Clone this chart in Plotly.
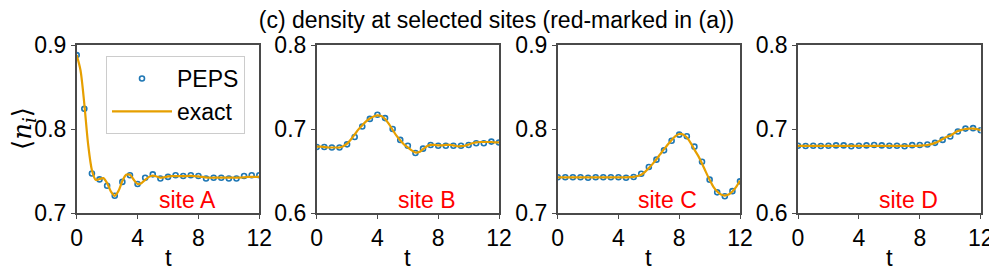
import plotly.graph_objects as go

# ---------------- data ----------------
t_peps = [i * 0.5 for i in range(25)]
t_exact = [i * 0.25 for i in range(49)]

peps_A = [0.888, 0.824, 0.747, 0.740, 0.7325, 0.7206, 0.737, 0.745, 0.7345, 0.742,
          0.746, 0.741, 0.743, 0.745, 0.744, 0.745, 0.744, 0.741, 0.742, 0.742,
          0.741, 0.741, 0.744, 0.745, 0.745]
exact_A = [0.888, 0.870, 0.830, 0.782, 0.751, 0.7395, 0.7405, 0.7415, 0.7355, 0.7255,
           0.7205, 0.7265, 0.738, 0.7455, 0.7455, 0.7395, 0.7345, 0.7355, 0.7395, 0.743,
           0.7445, 0.7435, 0.742, 0.7425, 0.7435, 0.744, 0.744, 0.744, 0.744, 0.744,
           0.7443, 0.744, 0.7435, 0.743, 0.7423, 0.742, 0.742, 0.742, 0.742, 0.742,
           0.742, 0.742, 0.742, 0.7422, 0.7425, 0.743, 0.743, 0.743, 0.743]

peps_B = [0.6786, 0.6786, 0.678, 0.678, 0.6817, 0.6905, 0.703, 0.712, 0.717, 0.713,
          0.700, 0.687, 0.680, 0.6714, 0.6766, 0.681, 0.680, 0.680, 0.680, 0.680,
          0.681, 0.683, 0.683, 0.685, 0.684]
exact_B = [0.679, 0.679, 0.6785, 0.678, 0.678, 0.678, 0.678, 0.6795, 0.6825, 0.6875,
           0.6935, 0.6995, 0.7045, 0.709, 0.7125, 0.715, 0.7163, 0.7155, 0.712, 0.706,
           0.699, 0.692, 0.6865, 0.6815, 0.678, 0.6745, 0.672, 0.6725, 0.676, 0.6795,
           0.681, 0.681, 0.6805, 0.6805, 0.681, 0.681, 0.6805, 0.6795, 0.6795, 0.680,
           0.6815, 0.683, 0.684, 0.6845, 0.6845, 0.6845, 0.6845, 0.684, 0.684]

peps_C = [0.7425, 0.7425, 0.7425, 0.7425, 0.742, 0.7425, 0.7425, 0.7425, 0.7425, 0.742,
          0.7428, 0.7468, 0.7548, 0.7635, 0.7746, 0.786, 0.7933, 0.7913, 0.779, 0.761,
          0.7397, 0.7246, 0.720, 0.726, 0.7377]
exact_C = [0.7425, 0.7425, 0.7425, 0.7425, 0.7425, 0.7425, 0.7425, 0.7425, 0.7423, 0.7423,
           0.7423, 0.7424, 0.7425, 0.7425, 0.7425, 0.7425, 0.7425, 0.7425, 0.7425, 0.7426,
           0.743, 0.744, 0.7455, 0.749, 0.7535, 0.7585, 0.764, 0.770, 0.776, 0.7815,
           0.787, 0.7915, 0.794, 0.7935, 0.790, 0.7835, 0.7755, 0.768, 0.759, 0.749,
           0.7395, 0.731, 0.7255, 0.722, 0.7208, 0.722, 0.7255, 0.731, 0.7385]

peps_D = [0.680, 0.6798, 0.680, 0.6797, 0.680, 0.6805, 0.6805, 0.6795, 0.680, 0.6805,
          0.681, 0.6805, 0.680, 0.680, 0.6795, 0.6808, 0.681, 0.6815, 0.6835, 0.687,
          0.691, 0.697, 0.7005, 0.701, 0.6985]
exact_D = [0.680] * 31 + [0.680, 0.6802, 0.6805, 0.681, 0.682, 0.6835, 0.6855, 0.688, 0.6905,
                          0.692, 0.6950, 0.6975, 0.699, 0.700, 0.7005, 0.7005, 0.6998, 0.6985]

site_labels = ["site A", "site B", "site C", "site D"]
y_ranges = [[0.7, 0.9], [0.6, 0.8], [0.7, 0.9], [0.6, 0.8]]
y_ticks = [[0.7, 0.8, 0.9], [0.6, 0.7, 0.8], [0.7, 0.8, 0.9], [0.6, 0.7, 0.8]]
x_ticks = [0, 4, 8, 12]
peps_all = [peps_A, peps_B, peps_C, peps_D]
exact_all = [exact_A, exact_B, exact_C, exact_D]

# ---------------- figure ----------------
# the page adds an 8px body margin, so the figure is 8px smaller and
# all reference pixel positions are shifted by -8
OFF = 8
W, H = 997 - OFF, 272 - OFF
FONT = "Liberation Sans, Arial, Helvetica, sans-serif"
BLUE = "#1f77b4"
ORANGE = "#E69F00"
AXC = "#4a4a4a"

x_px = [(76.7, 259.3), (316.7, 499.0), (557.7, 740.0), (798.0, 980.7)]
px = lambda v: (v - OFF) / W
py = lambda v: 1 - (v - OFF) / H
y_dom = [py(213), py(45)]

fig = go.Figure()
layout = dict(
    width=W, height=H,
    margin=dict(l=0, r=0, t=0, b=0, autoexpand=False),
    paper_bgcolor="white", plot_bgcolor="white",
    font=dict(family=FONT, size=23, color="black"),
    showlegend=True,
)

annotations = []
for k in range(4):
    xa = "x" if k == 0 else f"x{k+1}"
    ya = "y" if k == 0 else f"y{k+1}"
    fig.add_trace(go.Scatter(
        x=t_peps, y=peps_all[k], mode="markers", name="PEPS",
        marker=dict(symbol="circle-open", size=5, color=BLUE, line=dict(width=1.6)),
        xaxis=xa, yaxis=ya, showlegend=(k == 0), legendgroup="peps"))
    fig.add_trace(go.Scatter(
        x=t_exact, y=exact_all[k], mode="lines", name="exact",
        line=dict(color=ORANGE, width=2.2, shape="spline", smoothing=0.8),
        xaxis=xa, yaxis=ya, showlegend=(k == 0), legendgroup="exact"))

    axkey = "" if k == 0 else str(k + 1)
    layout["xaxis" + axkey] = dict(
        domain=[px(x_px[k][0]), px(x_px[k][1])], anchor=ya, automargin=False,
        range=[0, 12], tickvals=x_ticks, ticks="outside", ticklen=4, tickwidth=1.3,
        tickcolor=AXC, showline=True, linecolor=AXC, linewidth=1.5, mirror=True,
        showgrid=False, zeroline=False, tickfont=dict(size=23),
    )
    layout["yaxis" + axkey] = dict(
        domain=y_dom, anchor=xa, automargin=False,
        range=y_ranges[k], tickvals=y_ticks[k], ticktext=[f"{v:.1f}" for v in y_ticks[k]],
        ticks="outside", ticklen=4, tickwidth=1.3,
        tickcolor=AXC, showline=True, linecolor=AXC, linewidth=1.5, mirror=True,
        showgrid=False, zeroline=False, tickfont=dict(size=23),
    )
    annotations.append(dict(
        x=7.25, y=y_ranges[k][0] + 0.0155, xref=xa, yref=ya,
        text=site_labels[k], showarrow=False,
        font=dict(color="#ff0000", size=23), xanchor="center", yanchor="middle"))
    # x-axis title "t"
    annotations.append(dict(
        x=(px(x_px[k][0]) + px(x_px[k][1])) / 2, y=py(257), xref="paper", yref="paper",
        text="t", showarrow=False, font=dict(size=24),
        xanchor="center", yanchor="middle"))

annotations.append(dict(
    x=px(24), y=py(129), xref="paper", yref="paper",
    text="⟨<i>n<sub>i</sub></i>⟩", showarrow=False, textangle=-90,
    font=dict(family="DejaVu Serif, serif", size=26), xanchor="center", yanchor="middle"))

layout["annotations"] = annotations
layout["title"] = dict(
    text="(c) density at selected sites (red-marked in (a))",
    x=px(496.5), xanchor="center", y=1.0, yanchor="top", pad=dict(t=4),
    font=dict(family=FONT, size=23, color="black"))
layout["legend"] = dict(
    x=px(106), y=py(56), xanchor="left", yanchor="top",
    bgcolor="rgba(255,255,255,0.85)", bordercolor="#cccccc", borderwidth=1,
    font=dict(size=23), tracegroupgap=0, itemwidth=60,
)

fig.update_layout(**layout)
fig.write_html("out.html")
